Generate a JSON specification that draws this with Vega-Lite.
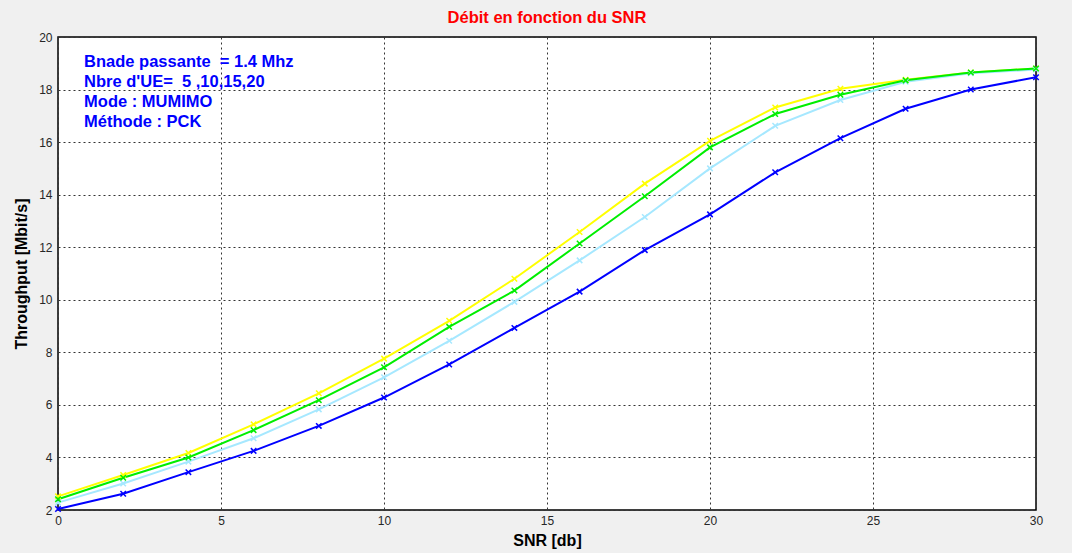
{
  "$schema": "https://vega.github.io/schema/vega-lite/v6.json",
  "width": 978,
  "height": 473,
  "autosize": {"type": "none"},
  "padding": {"left": 58, "top": 37, "right": 36, "bottom": 43},
  "background": "#f0f0f0",
  "title": {"text": "Débit en fonction du SNR", "color": "#ff0000", "font": "Liberation Sans", "fontSize": 16.5, "fontWeight": "bold", "offset": 5, "anchor": "middle"},
  "config": {
    "view": {"fill": "white", "stroke": "black", "strokeWidth": 1.5},
    "axis": {
      "grid": true, "gridDash": [2, 3], "gridColor": "#333333", "gridOpacity": 1, "gridWidth": 1,
      "domain": false, "ticks": false, "labelFlush": false,
      "labelFont": "Liberation Sans", "labelFontSize": 12, "labelColor": "#262626",
      "titleFont": "Liberation Sans", "titleFontSize": 16, "titleFontWeight": "bold", "titleColor": "#000000"
    }
  },
  "datasets": {
    "curves": [
      {"snr": 0, "tp": 2.52, "ue": 5}, {"snr": 2, "tp": 3.33, "ue": 5}, {"snr": 4, "tp": 4.17, "ue": 5}, {"snr": 6, "tp": 5.26, "ue": 5},
      {"snr": 8, "tp": 6.44, "ue": 5}, {"snr": 10, "tp": 7.76, "ue": 5}, {"snr": 12, "tp": 9.2, "ue": 5}, {"snr": 14, "tp": 10.8, "ue": 5},
      {"snr": 16, "tp": 12.58, "ue": 5}, {"snr": 18, "tp": 14.42, "ue": 5}, {"snr": 20, "tp": 16.05, "ue": 5}, {"snr": 22, "tp": 17.32, "ue": 5},
      {"snr": 24, "tp": 18.03, "ue": 5}, {"snr": 26, "tp": 18.37, "ue": 5}, {"snr": 28, "tp": 18.65, "ue": 5}, {"snr": 30, "tp": 18.8, "ue": 5},
      {"snr": 0, "tp": 2.28, "ue": 10}, {"snr": 2, "tp": 3.01, "ue": 10}, {"snr": 4, "tp": 3.84, "ue": 10}, {"snr": 6, "tp": 4.73, "ue": 10},
      {"snr": 8, "tp": 5.83, "ue": 10}, {"snr": 10, "tp": 7.05, "ue": 10}, {"snr": 12, "tp": 8.44, "ue": 10}, {"snr": 14, "tp": 9.92, "ue": 10},
      {"snr": 16, "tp": 11.5, "ue": 10}, {"snr": 18, "tp": 13.15, "ue": 10}, {"snr": 20, "tp": 15.0, "ue": 10}, {"snr": 22, "tp": 16.62, "ue": 10},
      {"snr": 24, "tp": 17.6, "ue": 10}, {"snr": 26, "tp": 18.3, "ue": 10}, {"snr": 28, "tp": 18.62, "ue": 10}, {"snr": 30, "tp": 18.76, "ue": 10},
      {"snr": 0, "tp": 2.41, "ue": 15}, {"snr": 2, "tp": 3.23, "ue": 15}, {"snr": 4, "tp": 4.0, "ue": 15}, {"snr": 6, "tp": 5.04, "ue": 15},
      {"snr": 8, "tp": 6.18, "ue": 15}, {"snr": 10, "tp": 7.43, "ue": 15}, {"snr": 12, "tp": 8.97, "ue": 15}, {"snr": 14, "tp": 10.35, "ue": 15},
      {"snr": 16, "tp": 12.14, "ue": 15}, {"snr": 18, "tp": 13.94, "ue": 15}, {"snr": 20, "tp": 15.8, "ue": 15}, {"snr": 22, "tp": 17.07, "ue": 15},
      {"snr": 24, "tp": 17.8, "ue": 15}, {"snr": 26, "tp": 18.35, "ue": 15}, {"snr": 28, "tp": 18.65, "ue": 15}, {"snr": 30, "tp": 18.8, "ue": 15},
      {"snr": 0, "tp": 2.04, "ue": 20}, {"snr": 2, "tp": 2.62, "ue": 20}, {"snr": 4, "tp": 3.44, "ue": 20}, {"snr": 6, "tp": 4.25, "ue": 20},
      {"snr": 8, "tp": 5.2, "ue": 20}, {"snr": 10, "tp": 6.28, "ue": 20}, {"snr": 12, "tp": 7.54, "ue": 20}, {"snr": 14, "tp": 8.93, "ue": 20},
      {"snr": 16, "tp": 10.31, "ue": 20}, {"snr": 18, "tp": 11.89, "ue": 20}, {"snr": 20, "tp": 13.25, "ue": 20}, {"snr": 22, "tp": 14.85, "ue": 20},
      {"snr": 24, "tp": 16.15, "ue": 20}, {"snr": 26, "tp": 17.27, "ue": 20}, {"snr": 28, "tp": 18.0, "ue": 20}, {"snr": 30, "tp": 18.47, "ue": 20}
    ]
  },
  "layer": [
    {
      "data": {"name": "curves"},
      "mark": {"type": "line", "strokeWidth": 2},
      "encoding": {
        "x": {"field": "snr", "type": "quantitative", "scale": {"domain": [0, 30], "nice": false, "zero": false},
              "axis": {"title": "SNR [db]", "values": [0, 5, 10, 15, 20, 25, 30], "labelPadding": 5, "titlePadding": 6}},
        "y": {"field": "tp", "type": "quantitative", "scale": {"domain": [2, 20], "nice": false, "zero": false},
              "axis": {"title": "Throughput [Mbit/s]", "values": [2, 4, 6, 8, 10, 12, 14, 16, 18, 20], "labelPadding": 6, "titlePadding": 9}},
        "color": {"field": "ue", "type": "nominal", "scale": {"domain": [5, 10, 15, 20], "range": ["#ffff00", "#a6e8ff", "#00ee00", "#0000ff"]}, "legend": null}
      }
    },
    {
      "data": {"name": "curves"},
      "mark": {"type": "point", "shape": "M-1,-1L1,1M-1,1L1,-1", "filled": false, "size": 30, "strokeWidth": 1.5, "opacity": 1},
      "encoding": {
        "x": {"field": "snr", "type": "quantitative"},
        "y": {"field": "tp", "type": "quantitative"},
        "color": {"field": "ue", "type": "nominal", "legend": null}
      }
    },
    {
      "data": {"values": [{}]},
      "mark": {"type": "text", "text": ["Bnade passante \u00a0= 1.4 Mhz", "Nbre d'UE= \u00a05 ,10,15,20", "Mode : MUMIMO", "Méthode : PCK"],
               "align": "left", "baseline": "top", "font": "Liberation Sans", "fontSize": 16.5, "fontWeight": "bold", "color": "#0000ff", "lineHeight": 20},
      "encoding": {
        "x": {"datum": 0.8, "type": "quantitative"},
        "y": {"datum": 19.36, "type": "quantitative"}
      }
    }
  ]
}
